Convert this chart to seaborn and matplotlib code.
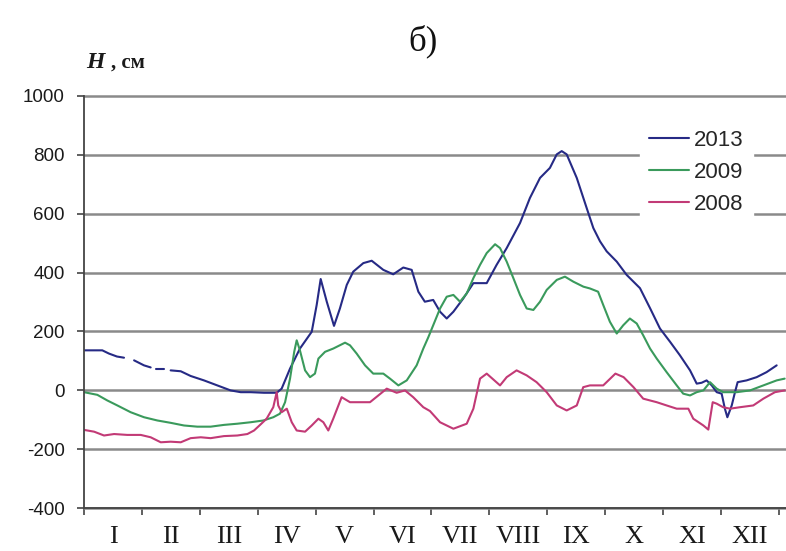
import numpy as np
import pandas as pd
import matplotlib
matplotlib.use("Agg")
import matplotlib.pyplot as plt
import seaborn as sns

# Water level H (cm) through the year; day of year on x, NaN marks gaps in the record
days_2013 = [0, 9.6, 13.1, 17.3, 21.0, 23.0, 26.3, 31.5, 35.0, 36.3, 37.7, 42.0, 43.8, 45.5,
             50.8, 56.0, 63.0, 70.0, 77.0, 82.3, 87.5, 94.5, 101.2, 103.8, 108.2, 113.4,
             119.6, 122.2, 124.3, 127.5, 131.3, 134.4, 138.0, 141.4, 146.7, 151.1, 157.2,
             162.4, 167.7, 172.1, 175.6, 179.0, 183.4, 187.0, 190.5, 194.0, 199.2, 204.5,
             211.5, 216.7, 222.0, 229.0, 234.2, 239.5, 244.7, 248.3, 250.9, 253.5, 258.8,
             264.0, 267.5, 271.0, 274.5, 279.8, 285.0, 292.0, 297.3, 302.5, 307.8, 313.0,
             318.3, 321.8, 324.4, 327.0, 329.7, 332.3, 334.9, 336.6, 337.9, 340.2, 341.9,
             343.3, 348.0, 353.3, 358.5, 363.8]
h_2013 = [136, 136, 125, 115, 111, np.nan, 102, 85, 78, np.nan, 72, 72, np.nan, 68,
          65, 49, 34, 17, 0, -6, -6, -8, -8, 6, 74, 142,
          199, 290, 378, 301, 219, 278, 358, 403, 432, 440, 409,
          394, 417, 409, 335, 301, 307, 267, 244, 267, 312, 364,
          364, 426, 483, 568, 653, 721, 755, 801, 812, 801, 721,
          619, 551, 506, 472, 437, 392, 347, 279, 210, 165, 119,
          68, 23, 26, 34, 17, -6, -11, -62, -91, -51, -6,
          28, 34, 45, 62, 85]

days_2009 = [0, 7.0, 12.2, 17.5, 24.5, 31.5, 38.5, 45.5, 52.5, 59.5, 66.5, 73.5, 80.5,
             87.5, 94.2, 99.4, 102.9, 105.6, 108.2, 110.4, 111.7, 113.4, 116.1, 118.7,
             121.3, 123.1, 126.6, 130.9, 137.1, 139.7, 143.2, 147.6, 151.9, 157.2, 160.7,
             165.1, 169.5, 174.7, 178.2, 180.8, 183.4, 187.0, 190.5, 194.0, 197.5, 201.0,
             204.5, 208.0, 211.5, 215.9, 218.5, 222.0, 225.5, 229.0, 232.5, 236.0, 239.5,
             243.0, 248.3, 252.6, 257.0, 262.3, 265.7, 270.0, 272.7, 276.2, 279.8, 283.2,
             286.7, 290.3, 293.7, 297.3, 300.8, 306.0, 311.3, 314.7, 318.3, 321.8, 325.3,
             328.8, 332.3, 335.7, 342.8, 349.8, 356.8, 363.8, 368.0]
h_2009 = [-6, -15, -34, -51, -74, -91, -102, -110, -119, -123, -123, -117, -113,
          -108, -102, -91, -79, -40, 40, 131, 170, 136, 68, 45,
          57, 108, 131, 142, 162, 153, 125, 85, 57, 57, 40,
          17, 34, 85, 142, 180, 221, 278, 318, 324, 301, 329,
          381, 426, 466, 496, 483, 437, 381, 324, 278, 273, 301,
          341, 375, 386, 369, 352, 346, 335, 290, 233, 193, 221,
          244, 227, 187, 142, 108, 62, 17, -11, -17, -6, 0,
          28, 6, -6, -6, 0, 17, 34, 40]

days_2008 = [0, 5.3, 10.5, 15.8, 22.7, 29.8, 35.0, 40.3, 45.5, 50.8, 56.0, 61.3, 66.5,
             73.5, 80.5, 85.8, 89.3, 92.8, 95.9, 99.4, 101.2, 102.0, 103.8, 106.5, 109.1,
             111.7, 116.1, 119.6, 123.1, 125.7, 128.3, 130.9, 135.3, 139.7, 144.9, 150.2,
             154.6, 159.0, 164.2, 168.6, 172.9, 178.2, 181.7, 187.0, 194.0, 201.0, 204.5,
             208.0, 211.5, 218.5, 222.0, 227.2, 232.5, 237.7, 243.0, 248.3, 253.5, 258.8,
             262.2, 265.7, 272.7, 279.1, 283.4, 288.6, 293.7, 300.8, 306.0, 311.3, 317.4,
             320.0, 325.3, 327.9, 330.2, 332.3, 335.7, 339.3, 344.5, 351.5, 356.8, 362.9,
             368.0]
h_2008 = [-134, -140, -153, -148, -151, -151, -159, -176, -174, -176, -162, -159, -162,
          -155, -153, -148, -136, -115, -96, -57, -6, -51, -74, -62, -108,
          -136, -140, -119, -96, -108, -136, -96, -23, -40, -40, -40,
          -17, 6, -8, 0, -23, -57, -70, -108, -130, -113, -62,
          40, 57, 17, 45, 68, 51, 28, -6, -51, -68, -51,
          11, 17, 17, 57, 45, 11, -28, -40, -51, -62, -62,
          -96, -119, -133, -40, -45, -57, -62, -57, -51, -28, -6,
          0]

years = ["2013", "2009", "2008"]
colors = ["#262a85", "#3a9a5c", "#c23a76"]
months = ["I", "II", "III", "IV", "V", "VI", "VII", "VIII", "IX", "X", "XI", "XII"]
y_ticks = [-400, -200, 0, 200, 400, 600, 800, 1000]

frames = []
for year, d, h in zip(years, [days_2013, days_2009, days_2008], [h_2013, h_2009, h_2008]):
    h = np.asarray(h, dtype=float)
    seg = np.cumsum(np.isnan(h))
    part = pd.DataFrame({"day": d, "H": h, "year": year,
                         "seg": [f"{year}-{s}" for s in seg]})
    frames.append(part.dropna())
df = pd.concat(frames, ignore_index=True)

sns.set_style("white")
fig = plt.figure(figsize=(7.86, 5.51), dpi=100)
ax = fig.add_axes([0.1069, 0.0775, 0.8931, 0.7488])

sns.lineplot(data=df, x="day", y="H", hue="year", hue_order=years,
             palette=colors, units="seg", estimator=None, sort=False,
             linewidth=1.5, ax=ax)

ax.set_xlim(0, 368.7)
ax.set_ylim(-400, 1000)

# month boundaries as ticks, month names centred between them
edges = np.linspace(0, 365, 13)
ax.set_xticks(edges)
ax.set_xticklabels([])
ax.set_xticks((edges[:-1] + edges[1:]) / 2, minor=True)
ax.set_xticklabels(months, minor=True, fontfamily="Liberation Serif",
                   fontsize=19, color="#1a1a1a")
ax.tick_params(axis="x", which="major", length=5, width=1.2, color="#444",
               direction="out", bottom=True)
ax.tick_params(axis="x", which="minor", length=0, pad=13)

ax.set_yticks(y_ticks)
ax.set_yticklabels([str(v) for v in y_ticks], fontfamily="Liberation Sans",
                   fontsize=13.5, color="#1a1a1a")
ax.tick_params(axis="y", length=5, width=1.2, color="#444", direction="out",
               left=True, pad=9)

ax.grid(axis="y", color="#8a8a8a", linewidth=1.8)
ax.grid(axis="x", visible=False)
for gl in ax.get_ygridlines():
    gl.set_clip_on(False)
ax.set_axisbelow(True)

sns.despine(ax=ax, top=True, right=True)
for side in ("left", "bottom"):
    ax.spines[side].set_color("#444")
    ax.spines[side].set_linewidth(1.3)

ax.set_xlabel("")
ax.set_ylabel("")

handles, labels = ax.get_legend_handles_labels()
leg = ax.legend(handles, labels, loc="upper left",
                bbox_to_anchor=(0.814, 0.781), bbox_transform=fig.transFigure,
                borderaxespad=0, frameon=True, fancybox=False,
                facecolor="white", edgecolor="white", framealpha=1,
                handlelength=1.8, handletextpad=0.25, labelspacing=0.5,
                borderpad=0.4, prop={"family": "Liberation Sans", "size": 16})
for line in leg.get_lines():
    line.set_linewidth(1.5)

fig.text(0.538, 0.925, "б)", fontfamily="Liberation Serif", fontsize=25,
         ha="center", va="center", color="#111")
fig.text(0.110, 0.877, "H", fontfamily="Liberation Serif", fontstyle="italic",
         fontweight="bold", fontsize=17, color="#1a1a1a", ha="left", va="baseline")
fig.text(0.141, 0.877, ", см", fontfamily="Liberation Serif", fontweight="bold",
         fontsize=15, color="#1a1a1a", ha="left", va="baseline")

fig.savefig("out.png", dpi=100)
